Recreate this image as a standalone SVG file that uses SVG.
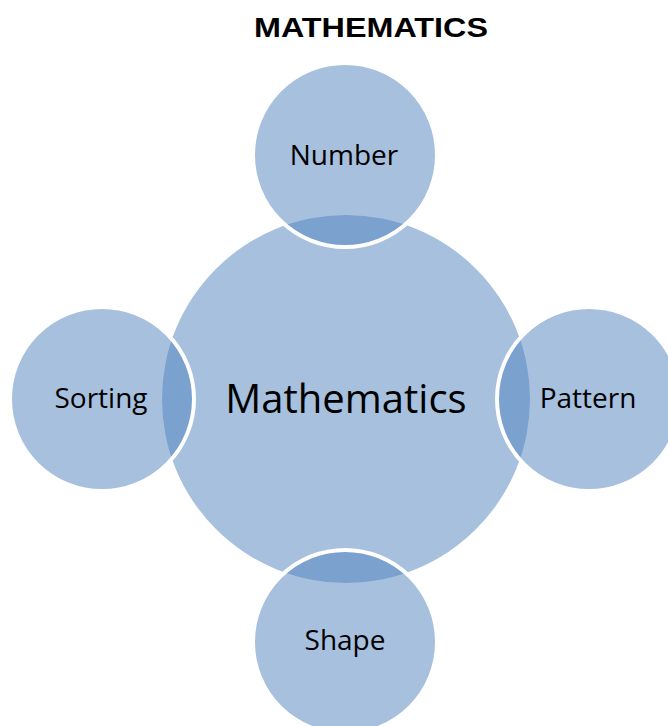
<svg xmlns="http://www.w3.org/2000/svg" width="668" height="726" viewBox="0 0 668 726">
  <style>
    .bubble { fill: #4f81bd; fill-opacity: 0.5; }
    .sat { stroke: #ffffff; stroke-width: 4; }
    .lbl { font-family: "Open Sans", "Noto Sans", sans-serif; fill: #000000; text-anchor: middle; }
    .title { font-family: "Liberation Sans", Arial, sans-serif; font-weight: bold; font-size: 28px; fill: #000000; text-anchor: middle; }
  </style>
  <rect x="0" y="0" width="668" height="726" fill="#ffffff"/>
  <text class="title" x="371" y="37" textLength="234" lengthAdjust="spacingAndGlyphs">MATHEMATICS</text>
  <g id="connectors"></g>
  <g id="center">
    <circle class="bubble" cx="346" cy="399" r="184"/>
    <text class="lbl" x="346" y="413" font-size="40">Mathematics</text>
  </g>
  <g id="number">
    <circle class="bubble sat" cx="345" cy="155" r="92"/>
    <text class="lbl" x="344" y="164.5" font-size="28">Number</text>
  </g>
  <g id="sorting">
    <circle class="bubble sat" cx="102" cy="399" r="92"/>
    <text class="lbl" x="101" y="407.5" font-size="28">Sorting</text>
  </g>
  <g id="pattern">
    <circle class="bubble sat" cx="589" cy="399" r="92"/>
    <text class="lbl" x="588" y="407.5" font-size="28">Pattern</text>
  </g>
  <g id="shape">
    <circle class="bubble sat" cx="345" cy="642" r="92"/>
    <text class="lbl" x="345" y="650" font-size="28">Shape</text>
  </g>
</svg>
